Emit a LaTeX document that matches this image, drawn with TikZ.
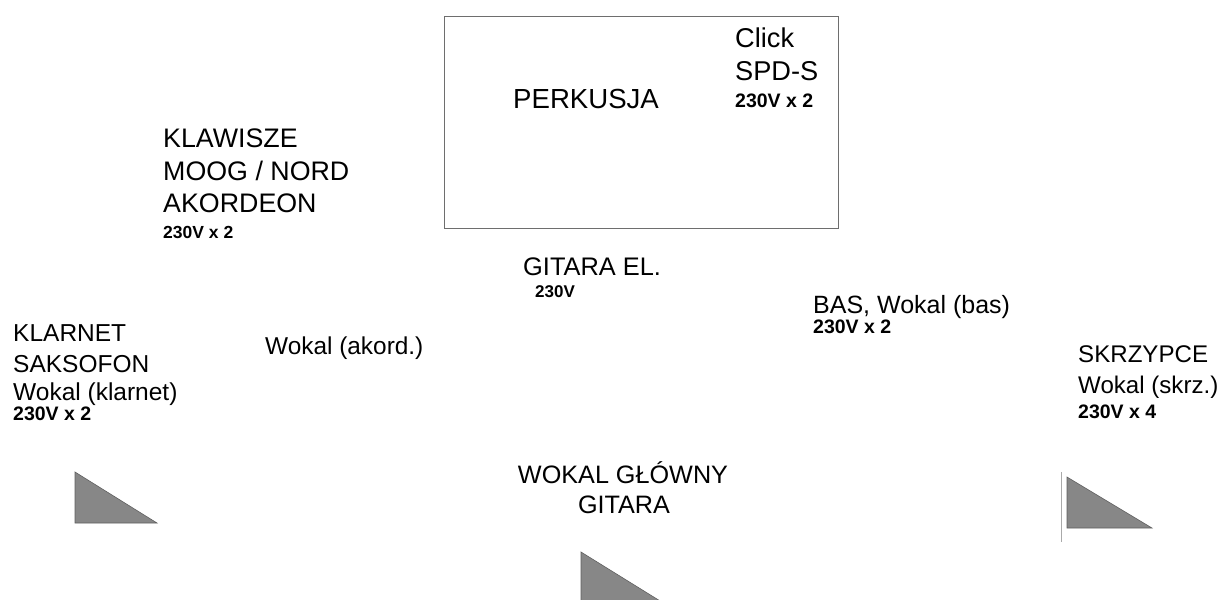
\documentclass[tikz,border=0pt]{standalone}
\usepackage{fontspec}
\setmainfont{Liberation Sans}[BoldFont={Liberation Sans Bold}]
\definecolor{mongray}{RGB}{135,135,135}
\definecolor{monedge}{RGB}{95,95,95}
\definecolor{boxgray}{RGB}{110,110,110}
\definecolor{linegray}{RGB}{170,170,170}
\begin{document}
\begin{tikzpicture}[x=1pt,y=-1pt,
  lbl/.style={anchor=base west,inner sep=0pt,font=\fontsize{#1}{30}\selectfont},
  lbl/.default=25.5,
  lblc/.style={anchor=base,inner sep=0pt,font=\fontsize{25.2}{30}\selectfont},
  pwr/.style={anchor=base west,inner sep=0pt,font=\fontsize{#1}{20}\selectfont\bfseries},
  pwr/.default=19.5,
  mon/.style={fill=mongray,draw=monedge,line width=0.6pt},
  stagebox/.style={draw=boxgray,line width=1pt}]
\useasboundingbox (0,0) rectangle (1227,600);
\clip (0,0) rectangle (1227,600);
% drum riser
\draw[stagebox] (444,16) rectangle (838,228);
\node[lbl=27.6] (perk) at (513,108.5) {PERKUSJA};
\node[lbl=27.2] (click) at (735,47) {Click};
\node[lbl=27.2] (spd) at (735,80) {SPD-S};
\node[pwr] (perkp) at (735,107) {230V x 2};
% keys
\node[lbl=26.8] (kl1) at (163,147) {KLAWISZE};
\node[lbl=26.8] (kl2) at (163,180.5) {MOOG / NORD};
\node[lbl=26.8] (kl3) at (163,212) {AKORDEON};
\node[pwr=17.5] (klp) at (163,238) {230V x 2};
% guitar
\node[lbl=25.4] (git) at (523,275) {GITARA EL.};
\node[pwr=17] (gitp) at (535,297) {230V};
% bass
\node[lbl=25] (bas) at (813,313) {BAS, Wokal (bas)};
\node[pwr] (basp) at (813,333) {230V x 2};
% violin
\node[lbl=24.1] (sk1) at (1078,362) {SKRZYPCE};
\node[lbl=24.1] (sk2) at (1078,393) {Wokal (skrz.)};
\node[pwr] (skp) at (1078,418) {230V x 4};
% clarinet
\node[lbl=24.5] (ka1) at (13,341) {KLARNET};
\node[lbl=24.5] (ka2) at (13,372) {SAKSOFON};
\node[lbl=24.5] (ka3) at (13,400) {Wokal (klarnet)};
\node[pwr] (kap) at (13,420) {230V x 2};
% accordion vocal
\node[lbl=24.4] (akv) at (265,354) {Wokal (akord.)};
% lead vocal
\node[lblc] (wg1) at (623,483) {WOKAL GŁÓWNY};
\node[lblc] (wg2) at (624,513) {GITARA};
% monitors
\filldraw[mon] (75,472) -- (75,523) -- (157,523) -- cycle;
\filldraw[mon] (1067,477) -- (1067,528) -- (1152,528) -- cycle;
\filldraw[mon] (581,552) -- (581,604) -- (665,604) -- cycle;
\draw[linegray,line width=0.8pt] (1061,472) -- (1061,542);
\end{tikzpicture}
\end{document}
